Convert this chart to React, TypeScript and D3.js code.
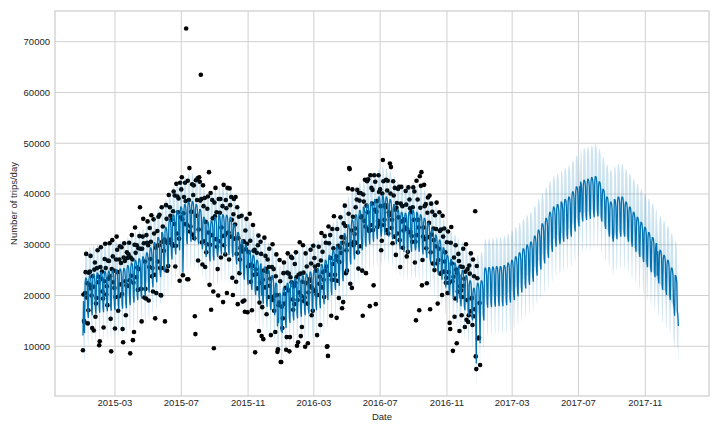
import React from 'react';
import * as d3 from 'd3';

// ---------- data (values in thousands unless noted) ----------
const historyStart = '2015-01-01';
const historyDays = 732; // 2015-01-01 .. 2017-01-01
const forecastDays = 1097; // 2015-01-01 .. 2018-01-01

// weekly centre level of yhat (weeks start on Monday, week 0 = 2014-12-29)
const weekCenter = [
  16.5, 19.5, 20, 20.3, 20.5, 20.6, 20.8, 20.9, 21, 21.2,
  21.3, 21.4, 22, 22.5, 23, 23.3, 23.7, 24.5, 25.5, 26.5,
  27.5, 28.5, 29.5, 31, 32, 32.8, 33.5, 34, 34.5, 34.6,
  34, 33, 31.5, 30.6, 30.8, 31.5, 32, 32, 31.9, 31.5,
  30, 28.5, 27, 26, 25, 24, 23, 22.3, 21.7, 21,
  20, 18.5, 16.5, 17.5, 18.5, 19, 19.4, 19.7, 20, 20.3,
  20.7, 21, 21.4, 22.2, 23, 24, 25, 25.8, 26.7, 28.3,
  30, 31, 32, 32.8, 33.5, 34, 34.5, 35, 35.5, 35.8,
  35.5, 35, 34, 33, 32.5, 32.3, 32.5, 32.8, 32.5, 32,
  31.3, 30.3, 29.2, 28, 27, 25.5, 24, 23.2, 22.5, 21.8,
  21, 20, 19, 17.5, 18.5, 19, 21.5, 21.6, 21.7, 21.8,
  21.8, 22, 22.5, 23, 23.7, 24.5, 25.3, 26, 26.6, 27.8,
  29, 30.2, 31.3, 32.5, 33.5, 34, 34.5, 35, 35.5, 36.5,
  37.5, 38.5, 38.8, 39, 39.3, 39.5, 38.5, 37, 35.5, 34.5,
  35, 35.5, 35.5, 34.5, 33.5, 32.5, 31.5, 30.5, 29.5, 28.5,
  27.5, 26.3, 25, 24, 23, 21.5, 20, 19,
];

// weekly seasonality, Mon..Sun
const weekdayEffect = [3.0, 3.9, 3.9, 3.6, 2.4, -3.0, -3.9];

const holidayDates = [
  '2015-01-01', '2015-05-25', '2015-07-04', '2015-09-07', '2015-11-26', '2015-12-25',
  '2016-01-01', '2016-05-30', '2016-07-04', '2016-09-05', '2016-11-24', '2016-12-25',
  '2017-01-01', '2017-05-29', '2017-07-04', '2017-09-04', '2017-11-23', '2017-12-25',
  '2018-01-01',
];
const holidayEffect = [
  -8, -6, -6, -6, -6, -7,
  -6, -6, -6, -6, -6, -7,
  -4, -6, -6, -6, -6, -7,
  -8,
];

// half width of the uncertainty interval, per month from 2015-01 to 2018-01
const bandHalf = [
  5.6, 5.6, 5.6, 5.6, 5.6, 5.6, 5.6, 5.6, 5.6, 5.6, 5.6, 5.6,
  5.6, 5.6, 5.6, 5.6, 5.6, 5.6, 5.6, 5.6, 5.6, 5.6, 5.6, 5.6,
  5.7, 5.8, 5.9, 6.0, 6.1, 6.2, 6.3, 6.4, 6.5, 6.6, 6.7, 6.8,
  6.9,
];

// observed minus fitted, in hundreds of trips, one per day from 2015-01-01
const residuals = [
  -29, 13, 15, 21,
  -20, 12, 48, -35, 5, -20, 15,
  15, -18, 8, 42, -10, 30, -25,
  5, -25, -111, 12, 38, -15, 20,
  -40, 10, 45, -15, 8, -73, -56,
  20, 50, -12, 5, -22, 18, -30,
  -10, 25, 55, 10, -30, 40, 12,
  30, -15, 20, 58, 5, -25, -80,
  12, 60, 28, -20, 15, 35, -36,
  -45, 20, 65, 42, 10, -12, 25,
  28, 45, -30, 15, 58, 20, -40,
  -136, 22, 50, 18, -10, -23, 45,
  35, 15, -40, 25, 60, 40, -95,
  20, -25, 55, 10, -137, 30, -58,
  40, 65, 15, -30, 45, 55, 20,
  30, -20, 45, 105, 35, 10, -45,
  25, 40, 75, 30, -65, 60, 15,
  -81, 35, 20, 65, 30, -25, 50,
  48, -22, 12, 67, -41, 29, -8,
  55, 18, -63, -146, 5, -30, 72,
  22, -47, 41, -12, 60, 9, -35,
  -55, 50, -18, 15, -55, 33, 64,
  -176, -28, 44, 20, -70, 38, 2,
  58, -40, 25, 11, -24, 69, 31,
  -52, 7, 46, -15, 53, -33, 17,
  62, -45, 28, 0, 39, 14, -60,
  57, -20, 35, 62, -9, -5, 66,
  24, -38, 43, 10, 362, 30, -69,
  51, -152, 4, 70, -43, 21, 59,
  -11, 34, -65, 16, 47, -3, -148,
  -246, 48, -22, 12, 67, -41, 29,
  73, 55, 18, 269, 36, 5, -30,
  72, 22, -47, 41, -83, 60, 9,
  -35, 26, 50, -18, 113, -55, 33,
  64, -175, -28, 44, 20, -70, -173,
  38, 2, 58, -40, 25, 11, -24,
  -90, 31, -52, 7, 46, -15, 53,
  -33, 17, -172, 62, -45, 28, 0,
  39, 14, -153, 57, -20, 35, -9,
  66, 24, -38, 43, 10, -50, -75,
  30, 51, -27, 4, 70, -43, 21,
  59, -141, -11, 34, -65, 16, 47,
  -3, 48, -22, -118, 12, 67, -41,
  -122, 29, -8, 55, 18, -63, 36,
  5, -30, 72, 22, -47, 41, -40,
  -12, 60, 9, -35, 26, -122, 50,
  -18, 15, -55, 33, 64, -70, -5,
  -28, 44, 20, -79, -70, 38, -70,
  2, 58, -40, 25, 11, -24, 69,
  31, -52, 7, 46, -15, 53, -49,
  -33, 17, 62, -45, 28, 0, 39,
  -87, 14, 57, -20, -50, -61, 35,
  -9, 66, 24, -132, -60, 43, 10,
  -50, 30, 51, -27, 4, 70, -43,
  -97, 21, 59, -11, 34, -65, -28,
  16, 47, -3, 48, -22, 12, 67,
  -41, 29, -8, 55, 18, -63, 36,
  -119, 5, -30, 72, 22, -47, 41,
  -92, -12, 60, 9, -35, 26, -62,
  50, -18, 15, -55, -121, 33, 64,
  -5, -28, 44, 20, -70, 38, 2,
  58, -40, 25, 11, -24, 69, 31,
  -122, -52, 7, 46, -15, 53, -33,
  17, 62, -45, 28, 0, 39, 14,
  57, -20, 35, -9, -155, -100, -110,
  66, 24, -38, 43, 10, -50, 30,
  51, -27, 4, 70, -43, 21, 59,
  -11, -141, 34, -65, 16, -33, 47,
  -3, 48, -22, 12, -116, 67, -41,
  29, -8, 55, 18, -63, 36, 5,
  -30, 72, 22, 115, 125, -47, 41,
  -12, -134, 60, 9, -35, 26, 50,
  -18, 15, -55, 33, 64, -5, -28,
  44, 20, -70, 38, 2, 58, -40,
  -145, 25, 11, -24, 69, 31, -52,
  7, 46, -15, 53, -33, 17, -122,
  62, -45, 28, 0, 39, 14, -86,
  57, -20, 35, -203, -9, 66, 24,
  -38, 43, 10, -50, 30, 51, -27,
  -20, 4, 70, 31, -43, 21, 59,
  -11, 34, -65, 16, 47, -3, 48,
  -22, 71, 12, 67, -41, 29, -8,
  55, 18, -63, 36, 5, -30, 72,
  22, -47, 41, -12, 60, 9, -35,
  26, 50, -18, 15, -55, 33, 64,
  -5, -28, 44, 20, -70, 38, 2,
  58, -40, 25, 11, -24, 69, 31,
  -52, 7, 46, -15, 53, -33, 17,
  -144, 62, -45, 28, 0, 39, -115,
  85, 14, 57, 87, -124, -20, 35,
  -9, 66, 24, -38, 43, 10, -50,
  30, 51, -27, 4, 70, -100, 21,
  59, -11, 34, -65, 16, 47, -3,
  48, -22, 12, 67, -41, -66, 29,
  -8, 55, 18, -63, 36, 5, -30,
  72, 22, -47, 41, -12, 60, 9,
  -35, 26, -74, 50, -18, 15, -55,
  -128, 33, 64, -5, -28, -111, 44,
  20, -106, -70, 38, 2, -89, 58,
  -40, 25, 11, -64, -24, 69, 31,
  -79, -52, 7, 46, -15, 53, -33,
  17, 62, -87, -45, 28, -22, 0,
  39, 14, -60, 57, -20, 35, -9,
  66, -55, 24, -38, 167, -65, -11,
  43, 10, -108, -105, -92, 30, -43,
];

const yTicks = [10000, 20000, 30000, 40000, 50000, 60000, 70000];
const xTicks = ['2015-03', '2015-07', '2015-11', '2016-03', '2016-07', '2016-11', '2017-03', '2017-07', '2017-11'];

// ---------- build tables ----------
const DAY = 86400000;
const T0 = Date.parse(historyStart + 'T00:00:00Z');
const holidayMap = new Map<number, number>(
  holidayDates.map((s, i) => [Math.round((Date.parse(s + 'T00:00:00Z') - T0) / DAY), holidayEffect[i]])
);

type Row = { date: Date; yhat: number; lo: number; hi: number };
const forecast: Row[] = [];
for (let d = 0; d < forecastDays; d++) {
  const date = new Date(T0 + d * DAY);
  const dow = (d + 3) % 7;
  const wk = Math.floor((d + 3) / 7);
  const yhat = (weekCenter[wk] + weekdayEffect[dow] + (holidayMap.get(d) ?? 0)) * 1000;
  const m = (date.getUTCFullYear() - 2015) * 12 + date.getUTCMonth();
  const w = bandHalf[Math.min(m, bandHalf.length - 1)] * 1000;
  forecast.push({ date, yhat, lo: yhat - w, hi: yhat + w });
}
const observed = forecast
  .slice(0, Math.min(historyDays, residuals.length))
  .map((r, i) => ({ date: r.date, y: r.yhat + residuals[i] * 100 }));

// ---------- layout ----------
const W = 720, H = 432;
const L = 55, R = 709, TOP = 11, BOT = 396;
const x = d3
  .scaleUtc()
  .domain([new Date(Date.parse('2015-03-01T00:00:00Z') - 110.4 * DAY), new Date(Date.parse('2015-03-01T00:00:00Z') + 1093.3 * DAY)])
  .range([L, R]);
const y = d3.scaleLinear().domain([200, 76050]).range([BOT, TOP]);

const line = d3.line<Row>().x((r) => x(r.date)).y((r) => y(r.yhat));
const area = d3.area<Row>().x((r) => x(r.date)).y0((r) => y(r.lo)).y1((r) => y(r.hi));

const FONT = '"Liberation Sans", Arial, "DejaVu Sans", sans-serif';
const GRID = '#d0d0d0';
const TXT = '#262626';

export default function App() {
  return (
    <svg
      width={W}
      height={H}
      style={{ position: 'absolute', left: 0, top: 0, background: '#fff' }}
      fontFamily={FONT}
    >
      <rect x={0} y={0} width={W} height={H} fill="#fff" />
      {/* grid */}
      {yTicks.map((t) => (
        <line key={'gy' + t} x1={L} x2={R} y1={y(t)} y2={y(t)} stroke={GRID} strokeWidth={1} />
      ))}
      {xTicks.map((t) => {
        const xx = x(new Date(t + '-01T00:00:00Z'));
        return <line key={'gx' + t} x1={xx} x2={xx} y1={TOP} y2={BOT} stroke={GRID} strokeWidth={1} />;
      })}
      {/* observed points */}
      <g fill="#000">
        {observed.map((o, i) => (
          <circle key={i} cx={x(o.date)} cy={y(o.y)} r={2.3} />
        ))}
      </g>
      {/* forecast */}
      <path d={line(forecast) ?? ''} fill="none" stroke="#0072B2" strokeWidth={1.25} />
      <path d={area(forecast) ?? ''} fill="#0072B2" fillOpacity={0.2} stroke="none" />
      {/* frame */}
      <rect x={L} y={TOP} width={R - L} height={BOT - TOP} fill="none" stroke="#cccccc" strokeWidth={1.2} />
      {/* tick labels */}
      {yTicks.map((t) => (
        <text key={'ty' + t} x={L - 5} y={y(t)} dy="0.35em" textAnchor="end" fontSize={9.5} fill={TXT}>
          {t}
        </text>
      ))}
      {xTicks.map((t) => (
        <text key={'tx' + t} x={x(new Date(t + '-01T00:00:00Z'))} y={406} textAnchor="middle" fontSize={9.5} fill={TXT}>
          {t}
        </text>
      ))}
      <text x={(L + R) / 2} y={419.5} textAnchor="middle" fontSize={9.5} fill={TXT}>
        Date
      </text>
      <text
        transform={`translate(${17},${(TOP + BOT) / 2}) rotate(-90)`}
        textAnchor="middle"
        fontSize={9.5}
        fill={TXT}
      >
        Number of trips/day
      </text>
    </svg>
  );
}
